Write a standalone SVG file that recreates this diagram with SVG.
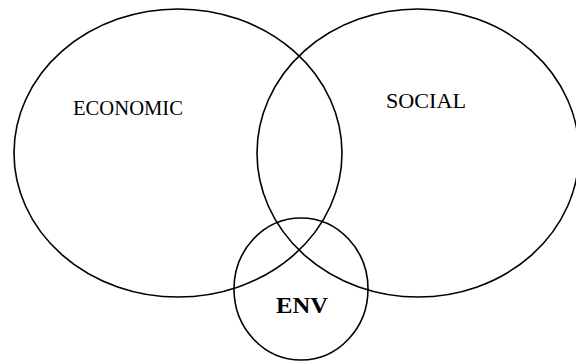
<svg xmlns="http://www.w3.org/2000/svg" width="576" height="361" viewBox="0 0 576 361">
<style>
.c{fill:none;stroke:#000;stroke-width:1.6}
.t{font-family:"Liberation Serif","Times New Roman",serif;font-size:22px;fill:#000}
.b{font-weight:bold;font-size:24px}
</style>
<rect width="576" height="361" fill="#fff"/>
<g id="economic"><ellipse class="c" cx="178" cy="153" rx="164" ry="144"/><text class="t" x="73" y="115" textLength="110" lengthAdjust="spacingAndGlyphs">ECONOMIC</text></g>
<g id="social"><ellipse class="c" cx="418" cy="153" rx="161" ry="144"/><text class="t" x="386" y="108" textLength="80" lengthAdjust="spacingAndGlyphs">SOCIAL</text></g>
<g id="env"><ellipse class="c" cx="301" cy="289" rx="67" ry="71"/><text class="t b" x="276" y="313" textLength="52" lengthAdjust="spacingAndGlyphs">ENV</text></g>
<g id="connectors"/>
</svg>
